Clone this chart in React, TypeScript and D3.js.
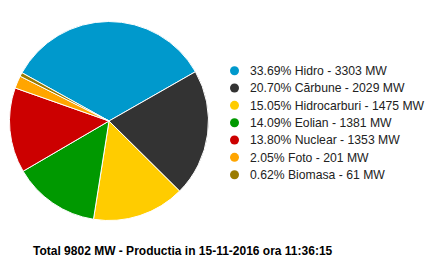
import React from "react";
import * as d3 from "d3";

const categories = ["Hidro", "Cărbune", "Hidrocarburi", "Eolian", "Nuclear", "Foto", "Biomasa"];
const values = [3303, 2029, 1475, 1381, 1353, 201, 61];
const percents = ["33.69%", "20.70%", "15.05%", "14.09%", "13.80%", "2.05%", "0.62%"];
const colors = ["#0099cc", "#333333", "#ffcc00", "#009900", "#cc0000", "#ffa500", "#9a7b00"];
const footer = "Total 9802 MW - Productia in 15-11-2016 ora 11:36:15";

export default function App() {
  const W = 447, H = 277;
  const cx = 109, cy = 121, r = 99.5;
  const start = (-61 * Math.PI) / 180;
  const pie = d3.pie<number>().sort(null).startAngle(start).endAngle(start + 2 * Math.PI);
  const arcs = pie(values);
  const arc = d3.arc<d3.PieArcDatum<number>>().innerRadius(0).outerRadius(r);
  const legendY = d3.scaleLinear().domain([0, 6]).range([70.7, 174.7]);
  return (
    <svg width={W} height={H} style={{ position: "absolute", left: 0, top: 0 }}>
      <rect width={W} height={H} fill="#fff" />
      <g transform={`translate(${cx},${cy})`}>
        {arcs.map((a, i) => (
          <path key={i} d={arc(a) || ""} fill={colors[i]} stroke="#fff" strokeWidth={1} />
        ))}
      </g>
      {categories.map((c, i) => (
        <g key={c}>
          <circle cx={234.5} cy={legendY(i)} r={4.5} fill={colors[i]} />
          <text x={250} y={legendY(i)} dy="0.36em" fontFamily="Arial, 'Liberation Sans', sans-serif" fontSize={12.2} fill="#222">
            {`${percents[i]} ${c} - ${values[i]} MW`}
          </text>
        </g>
      ))}
      <text x={33} y={251} dy="0.36em" fontFamily="Arial, 'Liberation Sans', sans-serif" fontSize={12} fontWeight="bold" fill="#000">
        {footer}
      </text>
    </svg>
  );
}
